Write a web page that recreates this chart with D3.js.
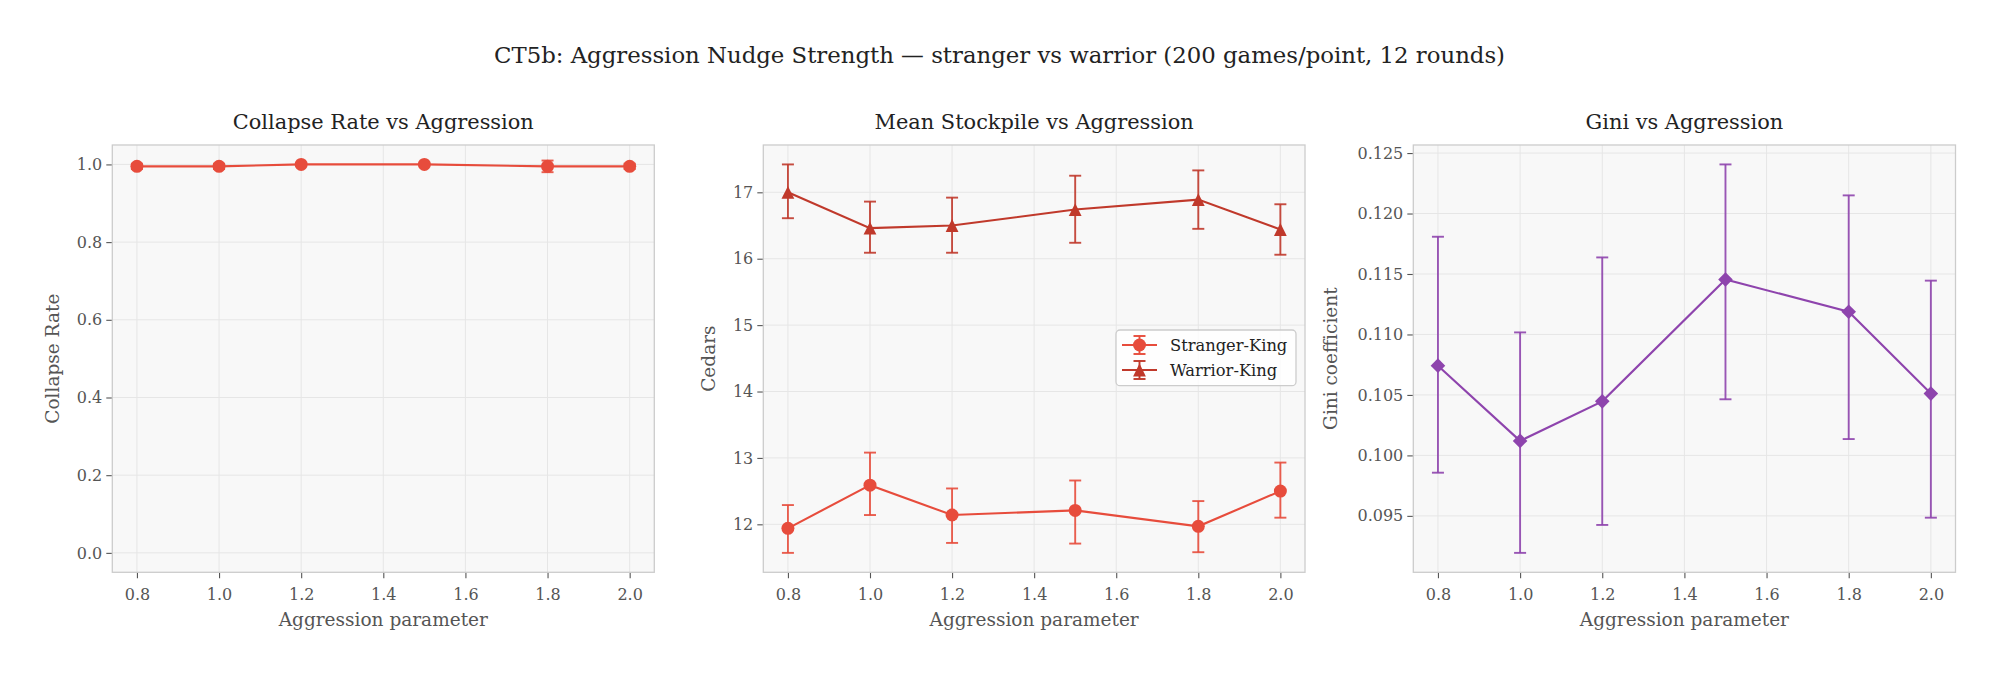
<!DOCTYPE html>
<html>
<head>
<meta charset="utf-8">
<script src="https://cdn.jsdelivr.net/npm/d3@7"></script>
<style>
  html, body { margin: 0; padding: 0; background: #ffffff; }
  svg { display: block; }
  text { font-family: "DejaVu Serif", serif; }
</style>
</head>
<body>
<svg id="chart" width="1999" height="675"></svg>
<script>
// ---------------- DATA ----------------
const aggression = [0.8, 1.0, 1.2, 1.5, 1.8, 2.0];

const collapseRate = [0.995, 0.995, 1.0, 1.0, 0.995, 0.995];
const collapseErr  = [0.007, 0.007, 0.0, 0.0, 0.015, 0.007];

const strangerMean = [11.94, 12.59, 12.14, 12.21, 11.97, 12.50];
const strangerLo   = [11.57, 12.14, 11.72, 11.71, 11.58, 12.10];
const strangerHi   = [12.29, 13.08, 12.54, 12.66, 12.35, 12.93];

const warriorMean  = [17.00, 16.46, 16.50, 16.74, 16.89, 16.44];
const warriorLo    = [16.61, 16.09, 16.09, 16.24, 16.45, 16.06];
const warriorHi    = [17.42, 16.86, 16.92, 17.25, 17.33, 16.82];

const giniMean = [0.10742, 0.10120, 0.10447, 0.11455, 0.11188, 0.10511];
const giniLo   = [0.09857, 0.09194, 0.09425, 0.10464, 0.10135, 0.09485];
const giniHi   = [0.11808, 0.11017, 0.11637, 0.12406, 0.12150, 0.11445];

const xTicks = [0.8, 1.0, 1.2, 1.4, 1.6, 1.8, 2.0];
const collapseTicks = [0.0, 0.2, 0.4, 0.6, 0.8, 1.0];
const cedarTicks = [12, 13, 14, 15, 16, 17];
const giniTicks = [0.095, 0.100, 0.105, 0.110, 0.115, 0.120, 0.125];

const suptitle = "CT5b: Aggression Nudge Strength \u2014 stranger vs warrior (200 games/point, 12 rounds)";
const titles = ["Collapse Rate vs Aggression", "Mean Stockpile vs Aggression", "Gini vs Aggression"];
const yLabels = ["Collapse Rate", "Cedars", "Gini coefficient"];
const xLabel = "Aggression parameter";
const seriesNames = ["Stranger-King", "Warrior-King"];

// ---------------- STYLE / LAYOUT ----------------
const C_STRANGER = "#e74c3c", C_WARRIOR = "#c0392b", C_GINI = "#8e44ad";
const TOP = 145, BOTTOM = 572.3;
const FS_SUP = 22.8, FS_TITLE = 20.9, FS_LABEL = 18.5, FS_TICK = 16, FS_LEG = 16.3;
const panelsLayout = [
  { left: 112.3, right: 654.3, ylabX: 52 },
  { left: 763.3, right: 1305.0, ylabX: 708 },
  { left: 1413.3, right: 1955.5, ylabX: 1330 }
];

const svg = d3.select("#chart");

svg.append("text")
  .attr("x", 999.5).attr("y", 62.7)
  .attr("text-anchor", "middle")
  .attr("font-size", FS_SUP).attr("fill", "#222")
  .text(suptitle);

function pad(lo, hi) { const r = hi - lo; return [lo - 0.05 * r, hi + 0.05 * r]; }

function trianglePath(s) { return `M0,${-s}L${-s},${s}L${s},${s}Z`; }
function diamondPath(s) { return `M0,${-s}L${s},0L0,${s}L${-s},0Z`; }

function drawMarker(g, shape, color, x, y) {
  if (shape === "circle") {
    g.append("circle").attr("cx", x).attr("cy", y).attr("r", 6.5).attr("fill", color);
  } else if (shape === "triangle") {
    g.append("path").attr("transform", `translate(${x},${y})`).attr("d", trianglePath(6.4)).attr("fill", color);
  } else {
    g.append("path").attr("transform", `translate(${x},${y})`).attr("d", diamondPath(7.3)).attr("fill", color);
  }
}

function makePanel(i, yDomain, yTicksArr, yFmt, seriesList) {
  const L = panelsLayout[i];
  const x = d3.scaleLinear().domain([0.74, 2.06]).range([L.left, L.right]);
  const y = d3.scaleLinear().domain(yDomain).range([BOTTOM, TOP]);
  const g = svg.append("g");

  g.append("rect").attr("x", L.left).attr("y", TOP)
    .attr("width", L.right - L.left).attr("height", BOTTOM - TOP)
    .attr("fill", "#f8f8f8");

  // grid
  g.append("g").selectAll("line").data(xTicks).join("line")
    .attr("x1", d => x(d)).attr("x2", d => x(d)).attr("y1", TOP).attr("y2", BOTTOM)
    .attr("stroke", "#e6e6e6").attr("stroke-width", 1);
  g.append("g").selectAll("line").data(yTicksArr).join("line")
    .attr("x1", L.left).attr("x2", L.right).attr("y1", d => y(d)).attr("y2", d => y(d))
    .attr("stroke", "#e6e6e6").attr("stroke-width", 1);

  // axes
  const xAxis = d3.axisBottom(x).tickValues(xTicks).tickFormat(d3.format(".1f")).tickSize(6).tickPadding(5);
  const yAxis = d3.axisLeft(y).tickValues(yTicksArr).tickFormat(yFmt).tickSize(6).tickPadding(4);
  const gx = g.append("g").attr("transform", `translate(0,${BOTTOM})`).call(xAxis);
  const gy = g.append("g").attr("transform", `translate(${L.left},0)`).call(yAxis);
  [gx, gy].forEach(a => {
    a.select(".domain").remove();
    a.selectAll(".tick line").attr("stroke", "#555").attr("stroke-width", 1.1);
    a.selectAll(".tick text").attr("fill", "#555").attr("font-size", FS_TICK).attr("font-family", "DejaVu Serif");
  });
  gx.selectAll(".tick text").attr("dy", "1.05em");

  // spines
  g.append("rect").attr("x", L.left).attr("y", TOP)
    .attr("width", L.right - L.left).attr("height", BOTTOM - TOP)
    .attr("fill", "none").attr("stroke", "#cccccc").attr("stroke-width", 1.3);

  // titles / labels
  g.append("text").attr("x", (L.left + L.right) / 2).attr("y", 129.3)
    .attr("text-anchor", "middle").attr("font-size", FS_TITLE).attr("fill", "#222").text(titles[i]);
  g.append("text").attr("x", (L.left + L.right) / 2).attr("y", 626)
    .attr("text-anchor", "middle").attr("font-size", FS_LABEL).attr("fill", "#555").text(xLabel);
  g.append("text").attr("transform", `translate(${L.ylabX},${(TOP + BOTTOM) / 2}) rotate(-90)`)
    .attr("text-anchor", "middle").attr("dominant-baseline", "central")
    .attr("font-size", FS_LABEL).attr("fill", "#555").text(yLabels[i]);

  // series
  const line = d3.line().x(d => x(d.x)).y(d => y(d.y));
  seriesList.forEach(s => {
    const pts = aggression.map((a, k) => ({ x: a, y: s.mean[k], lo: s.lo[k], hi: s.hi[k] }));
    const eg = g.append("g").attr("stroke", s.color).attr("stroke-width", 1.9).attr("stroke-opacity", 0.9);
    pts.forEach(p => {
      if (p.hi - p.lo <= 0) return;
      eg.append("line").attr("x1", x(p.x)).attr("x2", x(p.x)).attr("y1", y(p.lo)).attr("y2", y(p.hi));
      eg.append("line").attr("x1", x(p.x) - 6).attr("x2", x(p.x) + 6).attr("y1", y(p.lo)).attr("y2", y(p.lo));
      eg.append("line").attr("x1", x(p.x) - 6).attr("x2", x(p.x) + 6).attr("y1", y(p.hi)).attr("y2", y(p.hi));
    });
    g.append("path").datum(pts).attr("d", line).attr("fill", "none")
      .attr("stroke", s.color).attr("stroke-width", 2.1);
    pts.forEach(p => drawMarker(g, s.shape, s.color, x(p.x), y(p.y)));
  });
  return g;
}

// Panel 1
makePanel(0, [-0.05, 1.05], collapseTicks, d3.format(".1f"), [{
  color: C_STRANGER, shape: "circle", mean: collapseRate,
  lo: collapseRate.map((v, k) => v - collapseErr[k]),
  hi: collapseRate.map((v, k) => v + collapseErr[k])
}]);

// Panel 2
const cedarDomain = pad(d3.min(strangerLo.concat(warriorLo)), d3.max(strangerHi.concat(warriorHi)));
makePanel(1, cedarDomain, cedarTicks, d3.format("d"), [
  { color: C_STRANGER, shape: "circle", mean: strangerMean, lo: strangerLo, hi: strangerHi },
  { color: C_WARRIOR, shape: "triangle", mean: warriorMean, lo: warriorLo, hi: warriorHi }
]);

// Panel 3
const giniDomain = pad(d3.min(giniLo), d3.max(giniHi));
makePanel(2, giniDomain, giniTicks, d3.format(".3f"), [
  { color: C_GINI, shape: "diamond", mean: giniMean, lo: giniLo, hi: giniHi }
]);

// Legend (panel 2)
const lg = svg.append("g");
lg.append("rect").attr("x", 1116).attr("y", 330).attr("width", 180).attr("height", 55.7)
  .attr("rx", 4).attr("fill", "#ffffff").attr("fill-opacity", 0.8)
  .attr("stroke", "#cccccc").attr("stroke-width", 1.3);
[{ name: seriesNames[0], color: C_STRANGER, shape: "circle", y: 345 },
 { name: seriesNames[1], color: C_WARRIOR, shape: "triangle", y: 370 }].forEach(e => {
  const cx = 1139.5;
  lg.append("line").attr("x1", 1122).attr("x2", 1157).attr("y1", e.y).attr("y2", e.y)
    .attr("stroke", e.color).attr("stroke-width", 2.1);
  const eg = lg.append("g").attr("stroke", e.color).attr("stroke-width", 1.9);
  eg.append("line").attr("x1", cx).attr("x2", cx).attr("y1", e.y - 9).attr("y2", e.y + 9);
  eg.append("line").attr("x1", cx - 6).attr("x2", cx + 6).attr("y1", e.y - 9).attr("y2", e.y - 9);
  eg.append("line").attr("x1", cx - 6).attr("x2", cx + 6).attr("y1", e.y + 9).attr("y2", e.y + 9);
  drawMarker(lg, e.shape, e.color, cx, e.y);
  lg.append("text").attr("x", 1170).attr("y", e.y).attr("dominant-baseline", "central")
    .attr("font-size", FS_LEG).attr("fill", "#222").text(e.name);
});
</script>
</body>
</html>
